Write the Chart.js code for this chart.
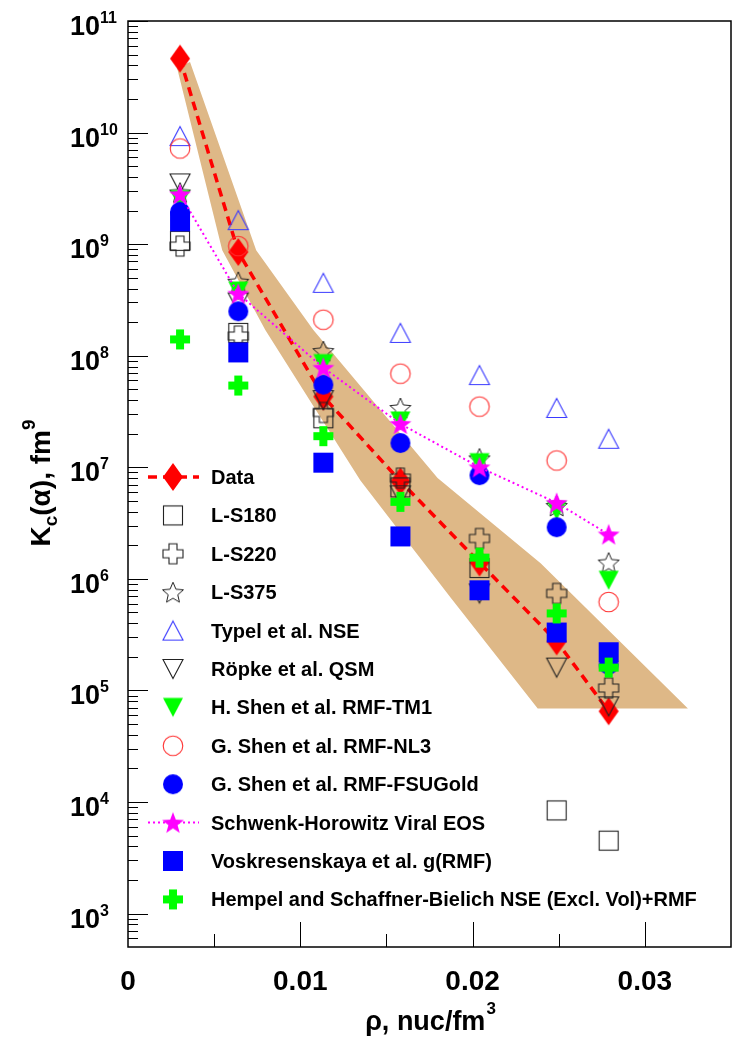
<!DOCTYPE html>
<html lang="en">
<head>
  <meta charset="UTF-8" />
  <title>Kc(alpha) vs density</title>
  <script src="https://cdn.jsdelivr.net/npm/chart.js"></script>
  <style>
    body { margin: 0; background: #fff; }
    #wrap { width: 733px; height: 1037px; }
  </style>
</head>
<body>
  <div id="wrap"><canvas id="chart" width="733" height="1037"></canvas></div>

  <script>
    // density columns (nuc/fm^3)
    const rho = [0.00302, 0.0064, 0.01134, 0.01581, 0.0204, 0.02488, 0.0279];

    const dataK     = [4.6e10, 8.5e8, 4.3e7, 7.5e6, 1.4e6, 2.75e5, 6.5e4];
    const ls180     = [1.07e9, 1.6e8, 2.75e7, 6.6e6, 1.25e6, 8.4e3, 4.5e3];
    const ls220     = [9.6e8, 1.5e8, 3.1e7, 8.0e6, 2.3e6, 7.4e5, 1.05e5];
    const ls375     = [2.9e9, 4.6e8, 1.1e8, 3.4e7, 1.2e7, 4.5e6, 1.4e6];
    const typel     = [9.3e9, 1.64e9, 4.5e8, 1.6e8, 6.7e7, 3.4e7, 1.8e7];
    const ropke     = [3.5e9, 3.0e8, 4.0e7, 5.6e6, 7.4e5, 1.6e5, 7.2e4];
    const hshenTM1  = [2.5e9, 3.8e8, 8.5e7, 2.6e7, 1.1e7, 4.1e6, 9.7e5];
    const gshenNL3  = [7.2e9, 9.6e8, 2.1e8, 6.9e7, 3.5e7, 1.15e7, 6.2e5];
    const gshenFSU  = [1.95e9, 2.5e8, 5.5e7, 1.65e7, 8.5e6, 2.9e6, 1.7e5];
    const schwenk   = [2.8e9, 3.6e8, 7.8e7, 2.45e7, 1.0e7, 4.8e6, 2.5e6];
    const voskr     = [1.6e9, 1.07e8, 1.1e7, 2.4e6, 7.9e5, 3.3e5, 2.2e5];
    const hempel    = [1.4e8, 5.4e7, 1.9e7, 4.9e6, 1.55e6, 4.9e5, 1.6e5];

    // error band of the data (upper edge and lower edge, top to bottom)
    const bandUpperX = [0.0036, 0.00744, 0.01076, 0.01797, 0.02395, 0.0325];
    const bandUpperY = [4.3e10, 8.8e8, 1.7e8, 8.0e6, 1.38e6, 6.9e4];
    const bandLowerX = [0.00285, 0.00547, 0.00797, 0.01349, 0.01872, 0.02378];
    const bandLowerY = [3.8e10, 8.8e8, 1.7e8, 7.6e6, 6.8e5, 6.9e4];

    const labels = ['Data', 'L-S180', 'L-S220', 'L-S375', 'Typel et al. NSE', 'Röpke et al. QSM',
      'H. Shen et al. RMF-TM1', 'G. Shen et al. RMF-NL3', 'G. Shen et al. RMF-FSUGold',
      'Schwenk-Horowitz Viral EOS', 'Voskresenskaya et al. g(RMF)',
      'Hempel and Schaffner-Bielich NSE (Excl. Vol)+RMF'];

    const yExponents = [3, 4, 5, 6, 7, 8, 9, 10, 11];
    const xTickValues = [0, 0.01, 0.02, 0.03];
    const xTickLabels = ['0', '0.01', '0.02', '0.03'];

    const FONT = '"Liberation Sans", Arial, sans-serif';

    // ---- marker images ----
    function mk(w, h, draw) {
      const c = document.createElement('canvas');
      c.width = w; c.height = h;
      draw(c.getContext('2d'), w / 2, h / 2);
      return c;
    }
    function plusPath(g, cx, cy, s, t) {
      g.beginPath();
      g.moveTo(cx - t, cy - s); g.lineTo(cx + t, cy - s); g.lineTo(cx + t, cy - t); g.lineTo(cx + s, cy - t);
      g.lineTo(cx + s, cy + t); g.lineTo(cx + t, cy + t); g.lineTo(cx + t, cy + s); g.lineTo(cx - t, cy + s);
      g.lineTo(cx - t, cy + t); g.lineTo(cx - s, cy + t); g.lineTo(cx - s, cy - t); g.lineTo(cx - t, cy - t);
      g.closePath();
    }
    function starPath(g, cx, cy, ro, ri) {
      g.beginPath();
      for (let k = 0; k < 10; k++) {
        const r = k % 2 ? ri : ro;
        const a = -Math.PI / 2 + k * Math.PI / 5;
        g.lineTo(cx + r * Math.cos(a), cy + r * Math.sin(a));
      }
      g.closePath();
    }
    function triPath(g, cx, cy, w, h, down) {
      const d = down ? -1 : 1;
      g.beginPath();
      g.moveTo(cx, cy - d * h / 2);
      g.lineTo(cx + w / 2, cy + d * h / 2);
      g.lineTo(cx - w / 2, cy + d * h / 2);
      g.closePath();
    }

    const M = {
      diamond: mk(22, 30, (g, cx, cy) => {
        g.beginPath(); g.moveTo(cx, cy - 14); g.lineTo(cx + 10, cy); g.lineTo(cx, cy + 14); g.lineTo(cx - 10, cy);
        g.closePath(); g.fillStyle = '#ff0000'; g.fill();
      }),
      openSquare: mk(24, 24, (g, cx, cy) => {
        g.strokeStyle = '#222'; g.lineWidth = 1.1; g.strokeRect(cx - 9.5, cy - 9.5, 19, 19);
      }),
      openPlus: mk(24, 24, (g, cx, cy) => {
        plusPath(g, cx, cy, 10, 4); g.strokeStyle = '#222'; g.lineWidth = 1.1; g.stroke();
      }),
      openStar: mk(26, 26, (g, cx, cy) => {
        starPath(g, cx, cy + 1, 11, 5); g.strokeStyle = '#222'; g.lineWidth = 1; g.stroke();
      }),
      upTri: mk(24, 24, (g, cx, cy) => {
        triPath(g, cx, cy, 20, 19, false); g.strokeStyle = '#3a3aff'; g.lineWidth = 1.1; g.stroke();
      }),
      downTriOpen: mk(24, 24, (g, cx, cy) => {
        triPath(g, cx, cy, 20, 19, true); g.strokeStyle = '#222'; g.lineWidth = 1.1; g.stroke();
      }),
      downTriGreen: mk(24, 24, (g, cx, cy) => {
        triPath(g, cx, cy, 20, 19, true); g.fillStyle = '#00ff00'; g.fill();
      }),
      openCircle: mk(24, 24, (g, cx, cy) => {
        g.beginPath(); g.arc(cx, cy, 9.8, 0, Math.PI * 2); g.strokeStyle = '#ff3030'; g.lineWidth = 1.1; g.stroke();
      }),
      blueCircle: mk(24, 24, (g, cx, cy) => {
        g.beginPath(); g.arc(cx, cy, 10, 0, Math.PI * 2); g.fillStyle = '#0000ff'; g.fill();
      }),
      magentaStar: mk(26, 26, (g, cx, cy) => {
        starPath(g, cx, cy + 1, 11.5, 4.8); g.fillStyle = '#ff00ff'; g.fill();
      }),
      blueSquare: mk(24, 24, (g, cx, cy) => {
        g.fillStyle = '#0000ff'; g.fillRect(cx - 10, cy - 10, 20, 20);
      }),
      greenPlus: mk(24, 24, (g, cx, cy) => {
        plusPath(g, cx, cy, 10, 4); g.fillStyle = '#00ff00'; g.fill();
      })
    };

    const series = [dataK, ls180, ls220, ls375, typel, ropke, hshenTM1, gshenNL3, gshenFSU, schwenk, voskr, hempel];
    const styles = [M.diamond, M.openSquare, M.openPlus, M.openStar, M.upTri, M.downTriOpen, M.downTriGreen,
      M.openCircle, M.blueCircle, M.magentaStar, M.blueSquare, M.greenPlus];

    const datasets = series.map((vals, i) => ({
      label: labels[i],
      data: rho.map((x, j) => ({ x: x, y: vals[j] })),
      pointStyle: styles[i],
      pointRadius: 10,
      showLine: false,
      order: series.length - i
    }));
    // dashed red line through the data, dotted magenta for the virial EOS
    Object.assign(datasets[0], { showLine: true, borderColor: '#ff0000', borderWidth: 3.5, borderDash: [9, 6] });
    Object.assign(datasets[9], { showLine: true, borderColor: '#ff00ff', borderWidth: 2, borderDash: [2, 3] });

    const bandPlugin = {
      id: 'band',
      beforeDatasetsDraw(chart) {
        const { ctx, scales: { x, y } } = chart;
        ctx.save();
        ctx.beginPath();
        bandUpperX.forEach((v, i) => ctx.lineTo(x.getPixelForValue(v), y.getPixelForValue(bandUpperY[i])));
        for (let i = bandLowerX.length - 1; i >= 0; i--) {
          ctx.lineTo(x.getPixelForValue(bandLowerX[i]), y.getPixelForValue(bandLowerY[i]));
        }
        ctx.closePath();
        ctx.fillStyle = '#deb887';
        ctx.fill();
        ctx.restore();
      }
    };

    // ROOT-like frame, inward ticks, labels and titles
    const framePlugin = {
      id: 'frame',
      afterDraw(chart) {
        const { ctx, chartArea: a, scales: { x, y } } = chart;
        ctx.save();
        ctx.strokeStyle = '#000';
        ctx.lineWidth = 1.5;
        ctx.strokeRect(a.left, a.top, a.right - a.left, a.bottom - a.top);

        ctx.lineWidth = 1;
        ctx.beginPath();
        for (let e = 2; e <= 11; e++) {
          for (let m = 1; m <= 9; m++) {
            const v = m * Math.pow(10, e);
            if (v < y.min || v > y.max) continue;
            const py = Math.round(y.getPixelForValue(v)) + 0.5;
            ctx.moveTo(a.left, py);
            ctx.lineTo(a.left + (m === 1 ? 20 : 10), py);
          }
        }
        for (let v = 0.005; v < x.max; v += 0.005) {
          const px = Math.round(x.getPixelForValue(v)) + 0.5;
          const major = Math.abs(v / 0.01 - Math.round(v / 0.01)) < 1e-6;
          ctx.moveTo(px, a.bottom);
          ctx.lineTo(px, a.bottom - (major ? 25 : 13));
        }
        ctx.stroke();

        ctx.fillStyle = '#000';
        yExponents.forEach(e => {
          const py = y.getPixelForValue(Math.pow(10, e));
          ctx.font = 'bold 27px ' + FONT;
          ctx.textAlign = 'right';
          ctx.fillText('10', 100, py + 14);
          ctx.font = 'bold 16px ' + FONT;
          ctx.textAlign = 'left';
          ctx.fillText(String(e), 100, py + 2);
        });

        ctx.font = 'bold 28px ' + FONT;
        ctx.textAlign = 'center';
        xTickValues.forEach((v, i) => {
          ctx.fillText(xTickLabels[i], x.getPixelForValue(v), 990);
        });

        // x title: rho, nuc/fm^3
        const big = 'bold 27px ' + FONT, sup = 'bold 17px ' + FONT;
        ctx.font = big;
        const w1 = ctx.measureText('ρ, nuc/fm').width;
        ctx.font = sup;
        const w2 = ctx.measureText('3').width;
        let sx = 430 - (w1 + w2) / 2;
        ctx.textAlign = 'left';
        ctx.font = big;
        ctx.fillText('ρ, nuc/fm', sx, 1030);
        ctx.font = sup;
        ctx.fillText('3', sx + w1 + 1, 1014);

        // y title: Kc(alpha), fm^9 (rotated)
        ctx.save();
        ctx.translate(50, 483);
        ctx.rotate(-Math.PI / 2);
        const tBig = 'bold 28px ' + FONT, tSmall = 'bold 19px ' + FONT;
        const parts = [['K', tBig, 0], ['c', tSmall, 7], ['(α), fm', tBig, 0], ['9', tSmall, -15]];
        let total = 0;
        parts.forEach(p => { ctx.font = p[1]; total += ctx.measureText(p[0]).width; });
        let cx = -total / 2;
        parts.forEach(p => {
          ctx.font = p[1];
          ctx.fillText(p[0], cx, p[2]);
          cx += ctx.measureText(p[0]).width;
        });
        ctx.restore();

        ctx.restore();
      }
    };

    const legendPlugin = {
      id: 'boxLegend',
      afterDraw(chart) {
        const ctx = chart.ctx;
        ctx.save();
        chart.data.datasets.forEach((ds, i) => {
          const ly = 477 + i * 38.4;
          if (ds.showLine) {
            ctx.strokeStyle = ds.borderColor;
            ctx.lineWidth = ds.borderWidth;
            ctx.setLineDash(ds.borderDash);
            ctx.beginPath();
            ctx.moveTo(148, ly);
            ctx.lineTo(199, ly);
            ctx.stroke();
            ctx.setLineDash([]);
          }
          const img = ds.pointStyle;
          ctx.drawImage(img, 173 - img.width / 2, ly - img.height / 2);
          ctx.fillStyle = '#000';
          ctx.font = 'bold 20px ' + FONT;
          ctx.textAlign = 'left';
          ctx.fillText(ds.label, 211, ly + 7);
        });
        ctx.restore();
      }
    };

    new Chart(document.getElementById('chart'), {
      type: 'scatter',
      data: { datasets: datasets },
      options: {
        responsive: false,
        animation: false,
        layout: { autoPadding: false, padding: { top: 21, right: 2, left: 0, bottom: 0 } },
        plugins: { legend: { display: false }, tooltip: { enabled: false } },
        scales: {
          x: {
            type: 'linear', min: 0, max: 0.035,
            ticks: { display: false }, grid: { display: false }, border: { display: false },
            afterFit: s => { s.height = 90; }
          },
          y: {
            type: 'logarithmic', min: Math.pow(10, 2.7), max: 1e11,
            ticks: { display: false }, grid: { display: false }, border: { display: false },
            afterFit: s => { s.width = 128; }
          }
        }
      },
      plugins: [bandPlugin, framePlugin, legendPlugin]
    });
  </script>
</body>
</html>
